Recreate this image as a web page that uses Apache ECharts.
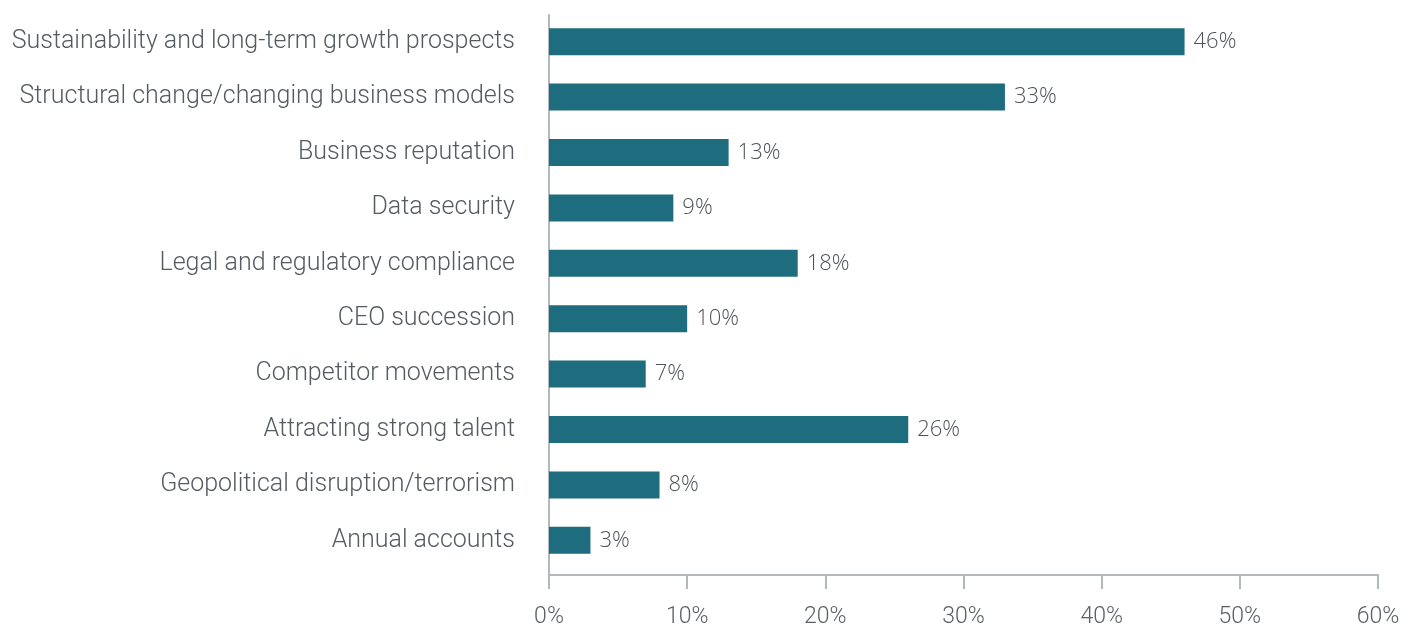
<!DOCTYPE html>
<html>
<head>
<meta charset="utf-8">
<script src="https://cdn.jsdelivr.net/npm/echarts@6/dist/echarts.min.js"></script>
<style>
  html, body { margin: 0; padding: 0; background: #ffffff; }
  #chart { width: 1408px; height: 627px; }
</style>
</head>
<body>
<div id="chart"></div>
<script>
// Issues listed top to bottom
const categories = [
  "Sustainability and long-term growth prospects",
  "Structural change/changing business models",
  "Business reputation",
  "Data security",
  "Legal and regulatory compliance",
  "CEO succession",
  "Competitor movements",
  "Attracting strong talent",
  "Geopolitical disruption/terrorism",
  "Annual accounts"
];
// Share of respondents, percent
const shares = [46, 33, 13, 9, 18, 10, 7, 26, 8, 3];
const xTicks = [0, 10, 20, 30, 40, 50, 60];

const axisGrey = '#b3b8bc';
const chart = echarts.init(document.getElementById('chart'), null, { renderer: 'canvas' });
chart.setOption({
  animation: false,
  grid: [
    // plotting area for the bars
    { left: 549, right: 30, top: 14, bottom: 59, containLabel: false, outerBoundsMode: 'none' },
    // frame carrying the axis lines, ticks and percentage scale
    { left: 549, right: 30, top: 15, bottom: 52, containLabel: false, outerBoundsMode: 'none' }
  ],
  xAxis: [
    {
      gridIndex: 0,
      type: 'value',
      min: xTicks[0],
      max: xTicks[xTicks.length - 1],
      interval: 10,
      show: false
    },
    {
      gridIndex: 1,
      type: 'value',
      min: xTicks[0],
      max: xTicks[xTicks.length - 1],
      interval: 10,
      axisLine: { show: true, lineStyle: { color: axisGrey, width: 2 } },
      axisTick: { show: true, length: 14, lineStyle: { color: axisGrey, width: 2 } },
      splitLine: { show: false },
      axisLabel: {
        formatter: v => v + '%',
        color: '#5a5f63',
        fontFamily: 'Roboto',
        fontWeight: 300,
        fontSize: 23,
        margin: 31
      }
    }
  ],
  yAxis: [
    {
      gridIndex: 0,
      type: 'category',
      data: categories,
      inverse: true,
      axisLine: { show: false },
      axisTick: { show: false },
      axisLabel: {
        color: '#555b60',
        fontFamily: 'Roboto',
        fontWeight: 300,
        fontSize: 25,
        margin: 34,
        padding: [0, 0, 6, 0]
      }
    },
    {
      gridIndex: 1,
      type: 'value',
      min: 0,
      max: 1,
      axisLine: { show: true, lineStyle: { color: axisGrey, width: 2 } },
      axisTick: { show: false },
      axisLabel: { show: false },
      splitLine: { show: false }
    }
  ],
  series: [{
    type: 'bar',
    xAxisIndex: 0,
    yAxisIndex: 0,
    data: shares,
    barWidth: 27,
    itemStyle: { color: '#1e6d7f' },
    label: {
      show: true,
      position: 'right',
      distance: 9,
      formatter: p => p.value + '%',
      color: '#4e5357',
      fontFamily: 'Open Sans',
      fontWeight: 300,
      fontSize: 22
    }
  }]
});
</script>
</body>
</html>
